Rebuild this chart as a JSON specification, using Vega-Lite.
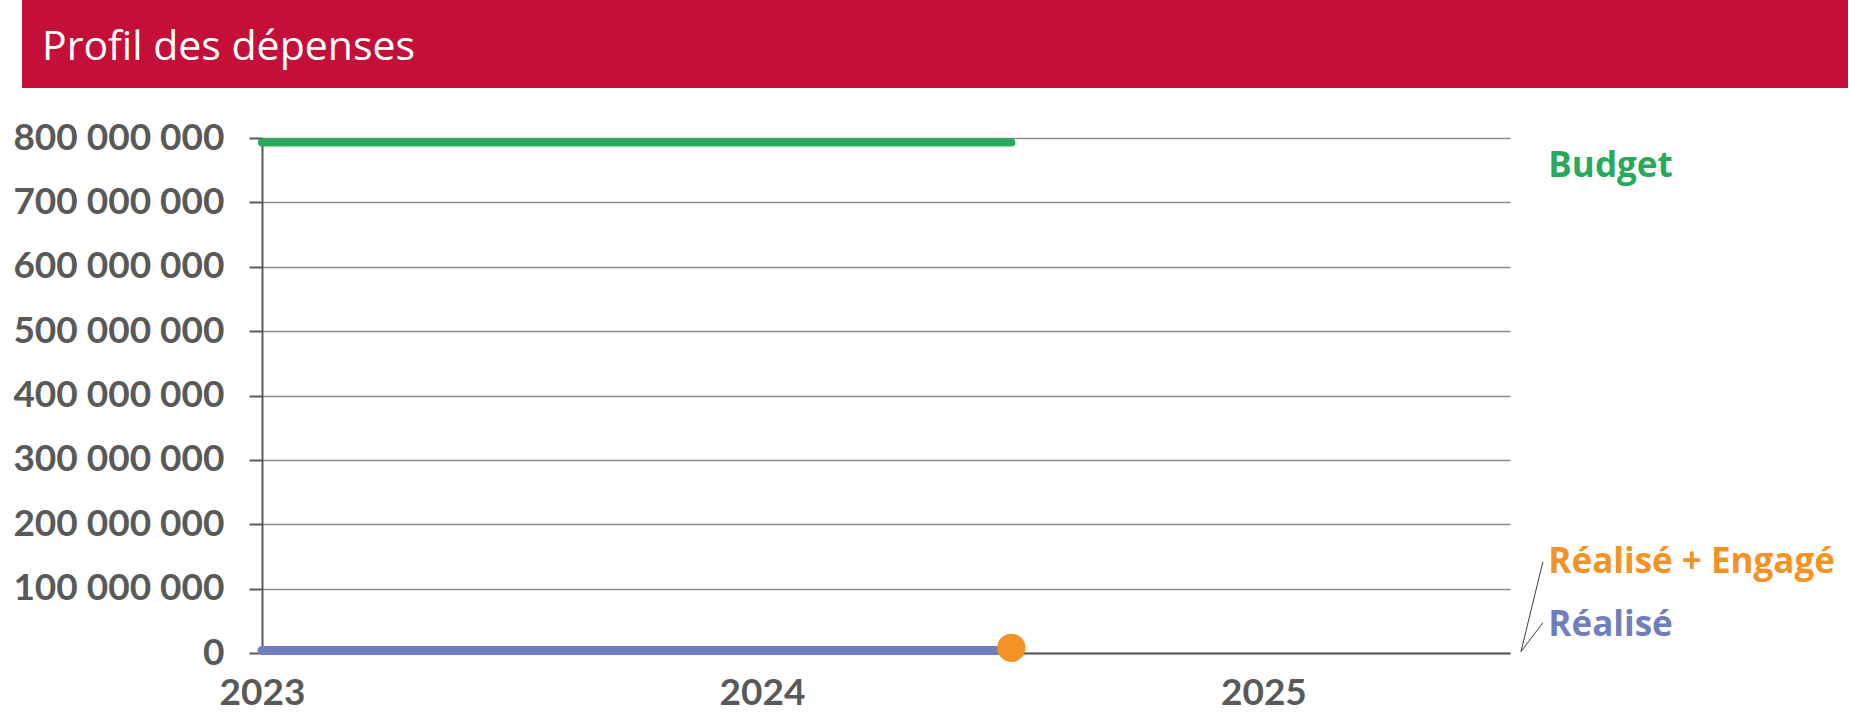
{
  "$schema": "https://vega.github.io/schema/vega-lite/v6.json",
  "padding": {"left": 12, "top": 0, "right": 0, "bottom": 0},
  "background": "white",
  "bounds": "flush",
  "spacing": 50,
  "config": {
    "font": "Lato",
    "view": {"stroke": null},
    "locale": {"number": {"decimal": ",", "thousands": " ", "grouping": [3], "currency": ["", " €"]}}
  },
  "datasets": {
    "lignes": [
      {"serie": "Budget", "date": "2023-01-01", "montant": 793000000},
      {"serie": "Budget", "date": "2024-07-01", "montant": 793000000},
      {"serie": "Réalisé", "date": "2023-01-01", "montant": 4000000},
      {"serie": "Réalisé", "date": "2024-07-01", "montant": 4000000}
    ],
    "points": [
      {"serie": "Réalisé + Engagé", "date": "2024-07-01", "montant": 8000000}
    ],
    "etiquettes": [
      {"serie": "Budget", "date": "2025-07-28", "montant": 740000000},
      {"serie": "Réalisé + Engagé", "date": "2025-07-28", "montant": 124000000},
      {"serie": "Réalisé", "date": "2025-07-28", "montant": 26000000}
    ],
    "reperes": [
      {"date": "2025-07-24", "montant": 141800000, "date2": "2025-07-08", "montant2": 2000000},
      {"date": "2025-07-24", "montant": 47100000, "date2": "2025-07-08", "montant2": 2000000}
    ]
  },
  "vconcat": [
    {
      "width": 1826,
      "height": 88,
      "view": {"fill": "#C41039", "stroke": null},
      "title": {
        "text": "Profil des dépenses",
        "anchor": "start",
        "orient": "top",
        "offset": -101,
        "dx": 20,
        "color": "white",
        "font": "Open Sans",
        "fontSize": 41,
        "fontWeight": "normal",
        "baseline": "alphabetic"
      },
      "data": {"values": []},
      "mark": "text"
    },
    {
      "bounds": "flush",
      "spacing": 0,
      "hconcat": [
        {
          "width": 240,
          "height": 515,
          "data": {"values": []},
          "mark": "text"
        },
        {
          "width": 1248,
          "height": 515,
          "encoding": {
            "x": {
              "field": "date",
              "type": "temporal",
              "scale": {
                "type": "utc",
                "domain": [
                  {"year": 2023, "month": 1, "date": 1, "utc": true},
                  {"year": 2025, "month": 6, "date": 30, "utc": true}
                ]
              },
              "axis": {
                "title": null,
                "values": [
                  {"year": 2023, "month": 1, "date": 1, "utc": true},
                  {"year": 2024, "month": 1, "date": 1, "utc": true},
                  {"year": 2025, "month": 1, "date": 1, "utc": true}
                ],
                "format": "%Y",
                "labelFont": "Lato",
                "labelFontSize": 37,
                "labelFontWeight": "bold",
                "labelColor": "#595959",
                "labelPadding": 22,
                "ticks": false,
                "grid": false,
                "domainColor": "#595959",
                "domainWidth": 2,
                "labelOverlap": false,
                "labelFlush": false
              }
            },
            "y": {
              "field": "montant",
              "type": "quantitative",
              "scale": {"domain": [0, 800000000]},
              "axis": {
                "title": null,
                "values": [0, 100000000, 200000000, 300000000, 400000000, 500000000, 600000000, 700000000, 800000000],
                "format": ",d",
                "labelFont": "Lato",
                "labelFontSize": 37,
                "labelFontWeight": "bold",
                "labelColor": "#595959",
                "labelPadding": 25,
                "labelLimit": 0,
                "tickSize": 13,
                "tickColor": "#595959",
                "tickWidth": 2,
                "domainColor": "#595959",
                "domainWidth": 2,
                "gridColor": "#8C8C8C",
                "gridWidth": 1.5,
                "labelOverlap": false,
                "labelFlush": false
              }
            }
          },
          "layer": [
            {
              "data": {"name": "lignes"},
              "mark": {"type": "line", "strokeCap": "round"},
              "encoding": {
                "color": {
                  "field": "serie",
                  "type": "nominal",
                  "scale": {"domain": ["Budget", "Réalisé + Engagé", "Réalisé"], "range": ["#28A95C", "#F39325", "#6F7FBE"]},
                  "legend": null
                },
                "strokeWidth": {
                  "field": "serie",
                  "type": "nominal",
                  "scale": {"domain": ["Budget", "Réalisé"], "range": [8, 9]},
                  "legend": null
                }
              }
            },
            {
              "data": {"name": "points"},
              "mark": {"type": "circle", "size": 800, "opacity": 1},
              "encoding": {
                "color": {"field": "serie", "type": "nominal", "legend": null}
              }
            },
            {
              "data": {"name": "reperes"},
              "mark": {"type": "rule", "color": "#404040", "strokeWidth": 1, "clip": false},
              "encoding": {
                "x2": {"field": "date2"},
                "y2": {"field": "montant2"}
              }
            },
            {
              "data": {"name": "etiquettes"},
              "mark": {"type": "text", "align": "left", "baseline": "alphabetic", "font": "Open Sans", "fontSize": 35, "fontWeight": "bold", "clip": false},
              "encoding": {
                "text": {"field": "serie"},
                "color": {"field": "serie", "type": "nominal", "legend": null}
              }
            }
          ]
        }
      ]
    }
  ]
}
